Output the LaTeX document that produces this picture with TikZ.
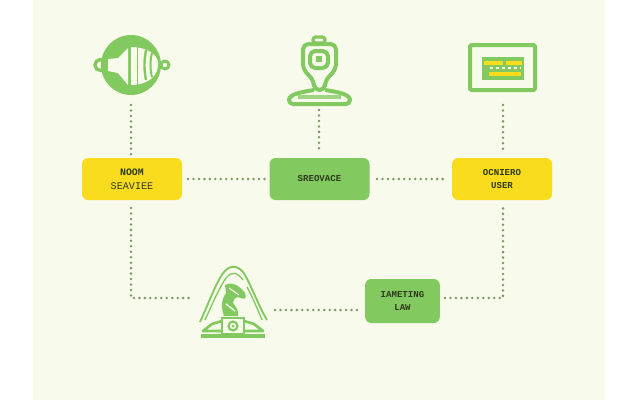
\documentclass[tikz,border=0pt]{standalone}
\usepackage{fontspec}
\setmainfont{Liberation Mono}
\definecolor{pagebg}{HTML}{F8FBEC}
\definecolor{leaf}{HTML}{82C95F}
\definecolor{sun}{HTML}{FADC1E}
\definecolor{dotc}{HTML}{7D9A66}
\definecolor{ink}{HTML}{2E3A1C}
\tikzset{
  card/.style={rounded corners=4.5pt,inner sep=0pt,align=center,font=\fontsize{6.8}{10.2}\selectfont\bfseries,text=ink,minimum height=31.5pt},
  ybox/.style={card,fill=sun,minimum width=75pt},
  gbox/.style={card,fill=leaf,minimum width=75pt},
  link/.style={draw=dotc,line width=2.1pt,line cap=round,dash pattern=on 0pt off 4.1pt},
  icon/.style={inner sep=0pt,minimum width=1pt,minimum height=1pt},
  gl/.style={draw=leaf,line width=2.6pt,line join=round,fill=none},
  wf/.style={fill=pagebg,draw=none}
}
\begin{document}
\begin{tikzpicture}[x=0.75pt,y=-0.75pt]
\useasboundingbox (0,0) rectangle (640,400);
\fill[white] (0,0) rectangle (640,400);
\fill[pagebg] (33,0) rectangle (605,400);
% nodes
\node[ybox] (room) at (132,179) {{\fontsize{7.4}{12.5}\selectfont NOOM}\\{\fontsize{7.6}{12.5}\selectfont\mdseries SEAVIEE}};
\node[gbox] (serv) at (319.5,179) {SREOVACE};
\node[ybox] (user) at (502,179) {OCNIERO\\USER};
\node[gbox,minimum width=56pt,minimum height=33pt] (law) at (402.5,301) {IAMETING\\LAW};
\node[icon] (bell) at (131,65) {};
\node[icon] (robot) at (319,72) {};
\node[icon] (screen) at (503,68) {};
\node[icon] (arch) at (233,303) {};
% connector ends
\coordinate (bellS) at (131,105);
\coordinate (roomN) at (131,155);
\coordinate (roomE) at (188,179);
\coordinate (roomS) at (131,208);
\coordinate (robotS) at (319,110);
\coordinate (servN) at (319,153);
\coordinate (servW) at (265,179);
\coordinate (servE) at (377,179);
\coordinate (userW) at (448,179);
\coordinate (screenS) at (503,105);
\coordinate (userN) at (503,153);
\coordinate (userS) at (503,205);
\coordinate (c1) at (131,298);
\coordinate (c2) at (503,298);
\coordinate (archW) at (192,298);
\coordinate (archE) at (275,310);
\coordinate (lawW) at (360,310);
\coordinate (lawE) at (445,298);
% bell
\draw[gl,line width=2.6pt] (bell)++(-30.5,0) circle (5.5);
\draw[gl,line width=2.2pt] (bell)++(34,0) circle (4);
\fill[leaf] (bell) circle (30);
\fill[wf] (108,59) -- (118,58) -- (128,48) -- (128,85) -- (118,73) -- (108,71) -- cycle;
\fill[wf] (131,47) .. controls (150,47) and (160,58) .. (158,65) .. controls (158,74) and (150,85) .. (131,85) -- cycle;
\draw[leaf,line width=1.4pt] (137.5,45) -- (137.5,87);
\draw[leaf,line width=1.8pt] (146,50) .. controls (144,60) and (144,70) .. (146,80);
\draw[leaf,line width=1.5pt] (152,53) .. controls (150,60) and (150,70) .. (152,77);
% robot
\draw[gl,line width=2.4pt,rounded corners=2pt] (313,37) rectangle (325,43);
\draw[gl,line width=3pt,rounded corners=4pt] (303,44) -- (336,44) -- (336,69) -- (325,81) -- (325,90) -- (314,90) -- (314,81) -- (303,69) -- cycle;
\draw[gl,line width=3pt,rounded corners=4pt] (310,51) rectangle (328,68);
\fill[leaf] (316,56) rectangle (322,62);
\draw[gl,line width=3pt,rounded corners=3pt] (314,90) .. controls (302,92) and (289,94) .. (289,104) -- (350,104) .. controls (350,94) and (337,92) .. (325,90);
\draw[leaf,line width=3pt,opacity=.75] (298,97) -- (341,97);
% screen
\draw[gl,line width=3pt,rounded corners=1pt] (470,45) rectangle (535,90);
\fill[leaf] (482,57) rectangle (524,80);
\fill[sun] (484,60.5) rectangle (503,64.5);
\fill[sun] (506,60.5) rectangle (522,64.5);
\draw[pagebg,line width=1pt,dash pattern=on 2pt off 2.5pt] (490,68) -- (521,68);
\fill[sun] (489,72) rectangle (521,76);
% arch
\draw[leaf,line width=1.4pt,line join=round] (200,322) .. controls (208,305) and (216,282) .. (224,272) .. controls (230,265) and (237,265) .. (243,272) .. controls (250,282) and (258,305) .. (267,320);
\draw[leaf,line width=1pt] (205,320) .. controls (212,305) and (219,288) .. (226,278) .. controls (232,271) and (237,272) .. (243,280);
\draw[leaf,line width=1pt] (262,320) .. controls (257,308) and (252,296) .. (247,287);
\fill[leaf] (225,285) .. controls (229,282) and (238,283) .. (245,293) .. controls (247,298) and (245,300) .. (241,298) .. controls (236,296) and (234,298) .. (233,303) .. controls (236,307) and (239,310) .. (238,316) -- (224,316) .. controls (221,308) and (221,300) .. (226,293) -- cycle;
\draw[pagebg,line width=1pt] (226,304) -- (235,311);
\draw[pagebg,line width=.8pt] (229,288) -- (239,295);
\draw[leaf,line width=1.5pt] (222,318) rectangle (244,334);
\draw[leaf,line width=1.6pt] (233,326) circle (4.5);
\fill[leaf] (233,326) circle (1.5);
\draw[leaf,line width=2pt,line join=round] (222,321) -- (212,324) -- (203,331) -- (222,331);
\draw[leaf,line width=2pt,line join=round] (244,321) -- (254,324) -- (263,331) -- (244,331);
\draw[leaf,line width=2.4pt] (201,336) -- (265,336);
% connectors
\draw[link] (bellS) -- (roomN);
\draw[link] (robotS) -- (servN);
\draw[link] (screenS) -- (userN);
\draw[link] (roomE) -- (servW);
\draw[link] (servE) -- (userW);
\draw[link] (roomS) -- (c1) -- (archW);
\draw[link] (archE) -- (lawW);
\draw[link] (lawE) -- (c2) -- (userS);
\end{tikzpicture}
\end{document}
